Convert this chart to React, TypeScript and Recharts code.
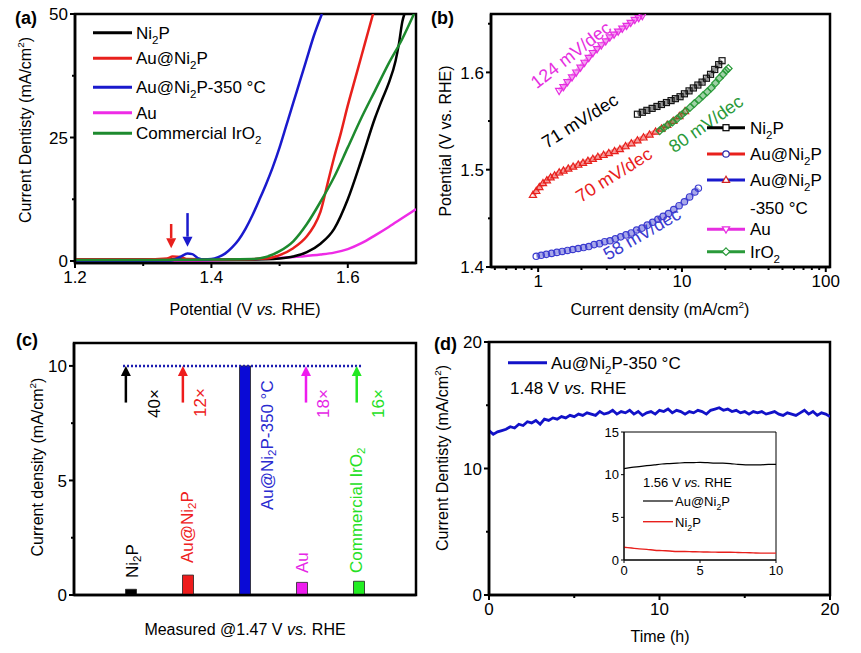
import React from 'react';
import {
  LineChart,
  Line,
  XAxis,
  YAxis,
  ReferenceArea,
  ReferenceLine,
  ScatterChart,
  Scatter,
  ComposedChart,
  Bar,
  Cell,
} from 'recharts';

const FONT = '"Liberation Sans", Arial, Helvetica, sans-serif';

// ---- (a) LSV curves: potential (V) vs current density (mA/cm2)
const ni2pV = [1.2, 1.3, 1.4, 1.45, 1.48, 1.5, 1.52, 1.54, 1.56, 1.58, 1.6, 1.62, 1.64, 1.65, 1.66, 1.67, 1.675, 1.68, 1.683];
const ni2pJ = [0.3, 0.3, 0.3, 0.3, 0.35, 0.5, 0.9, 1.8, 3.5, 6.5, 12.5, 20.5, 29, 32.6, 36, 40.5, 44, 48.5, 50];
const auNi2pV = [1.2, 1.3, 1.335, 1.343, 1.355, 1.365, 1.4, 1.45, 1.48, 1.5, 1.52, 1.54, 1.55, 1.56, 1.57, 1.58, 1.59, 1.6, 1.61, 1.62, 1.63, 1.637];
const auNi2pJ = [0.3, 0.3, 0.5, 0.9, 0.8, 0.4, 0.3, 0.35, 0.5, 1.2, 2.6, 5.0, 7.0, 10.0, 15.5, 21, 26, 31.5, 36.5, 41.5, 46.5, 50];
const au350V = [1.2, 1.3, 1.34, 1.355, 1.365, 1.372, 1.38, 1.39, 1.4, 1.41, 1.42, 1.43, 1.44, 1.45, 1.46, 1.47, 1.48, 1.49, 1.5, 1.51, 1.52, 1.53, 1.54, 1.55, 1.562];
const au350J = [0.0, 0.05, 0.1, 0.9, 1.5, 1.4, 0.6, 0.3, 0.4, 0.8, 1.5, 2.7, 4.3, 6.5, 9.2, 12.3, 15.5, 19, 23, 27.5, 32, 36.5, 41, 45.5, 50];
const auV = [1.2, 1.3, 1.4, 1.45, 1.5, 1.53, 1.56, 1.58, 1.6, 1.62, 1.64, 1.66, 1.68, 1.7];
const auJ = [-0.3, -0.2, 0.1, 0.3, 0.6, 0.9, 1.3, 1.7, 2.4, 3.6, 5.2, 6.9, 8.7, 10.5];
const iro2V = [1.2, 1.3, 1.4, 1.46, 1.48, 1.5, 1.52, 1.54, 1.56, 1.58, 1.6, 1.62, 1.64, 1.66, 1.68, 1.697];
const iro2J = [0.2, 0.2, 0.3, 0.4, 0.8, 2.0, 4.0, 7.5, 12, 17, 23, 29, 34.5, 40, 45, 50];

// arrows in (a): potential, arrow tail and tip (mA/cm2)
const aArrowV = [1.341, 1.365];
const aArrowTail = [7.5, 9.7];
const aArrowTip = [2.6, 2.9];

// ---- (b) Tafel: current density (mA/cm2) vs potential (V)
const tNi2pJ = [4.9, 5.3, 5.7, 6.2, 6.7, 7.2, 7.8, 8.4, 9.0, 9.7, 10.4, 11.2, 12.0, 12.9, 13.8, 14.8, 15.8, 16.9, 18.0, 19.0];
const tNi2pV = [1.557, 1.559, 1.561, 1.563, 1.565, 1.567, 1.569, 1.571, 1.573, 1.575, 1.578, 1.581, 1.584, 1.587, 1.59, 1.594, 1.598, 1.603, 1.608, 1.612];
const tAuNi2pJ = [0.92, 0.97, 1.02, 1.08, 1.15, 1.22, 1.3, 1.4, 1.5, 1.62, 1.75, 1.9, 2.05, 2.22, 2.4, 2.6, 2.85, 3.1, 3.4, 3.7, 4.05, 4.45, 4.9, 5.4, 5.95, 6.55, 7.2, 7.9, 8.7, 9.6, 10.5];
const tAuNi2pV = [1.474, 1.478, 1.482, 1.486, 1.489, 1.492, 1.494, 1.497, 1.499, 1.501, 1.503, 1.505, 1.507, 1.509, 1.511, 1.513, 1.515, 1.517, 1.519, 1.521, 1.524, 1.527, 1.53, 1.533, 1.536, 1.539, 1.542, 1.546, 1.55, 1.555, 1.56];
const tAu350J = [0.97, 1.05, 1.14, 1.24, 1.35, 1.47, 1.6, 1.74, 1.9, 2.07, 2.25, 2.45, 2.67, 2.9, 3.16, 3.44, 3.75, 4.08, 4.44, 4.84, 5.27, 5.74, 6.25, 6.8, 7.4, 8.06, 8.77, 9.55, 10.4, 11.3, 12.3, 13.0];
const tAu350V = [1.411, 1.412, 1.413, 1.414, 1.415, 1.416, 1.417, 1.418, 1.419, 1.42, 1.421, 1.423, 1.424, 1.426, 1.427, 1.429, 1.431, 1.433, 1.435, 1.438, 1.44, 1.443, 1.446, 1.449, 1.452, 1.455, 1.459, 1.463, 1.467, 1.472, 1.477, 1.481];
const tAuJ = [1.4, 1.5, 1.6, 1.72, 1.84, 1.97, 2.1, 2.25, 2.4, 2.57, 2.75, 2.95, 3.15, 3.37, 3.6, 3.85, 4.12, 4.4, 4.7, 5.0, 5.3];
const tAuV = [1.581, 1.585, 1.59, 1.595, 1.6, 1.605, 1.61, 1.615, 1.62, 1.624, 1.628, 1.632, 1.636, 1.639, 1.642, 1.645, 1.648, 1.651, 1.654, 1.656, 1.658];
const tIro2J = [7.0, 7.5, 8.0, 8.6, 9.2, 9.9, 10.6, 11.4, 12.2, 13.1, 14.0, 15.0, 16.0, 17.1, 18.2, 19.3, 20.3, 21.0];
const tIro2V = [1.54, 1.543, 1.546, 1.549, 1.552, 1.556, 1.56, 1.564, 1.568, 1.572, 1.576, 1.58, 1.584, 1.589, 1.594, 1.598, 1.602, 1.604];

// ---- (c) current density at 1.47 V
const cCats = ['Ni2P', 'Au@Ni2P', 'Au@Ni2P-350 °C', 'Au', 'Commercial IrO2'];
const cVals = [0.25, 0.87, 10, 0.55, 0.6];
const cColors = ['#000000', '#ee1c1c', '#0a0ad6', '#ee1cee', '#22ee22'];
const cArrowShift = [-0.09, -0.09, 0, 0.07, -0.04];
const cArrowTail = 8.4;
const cTarget = 10;

// ---- (d) chronoamperometry, sampled every 0.25 h
const dStep = 0.25;
const dJ = [
  13.0, 12.7, 12.9, 13.0, 13.1, 13.3, 13.2, 13.5, 13.4, 13.7, 13.6, 13.8,
  13.5, 13.9, 13.8, 14.0, 13.9, 14.1, 14.0, 14.2, 14.1, 14.3, 14.2, 14.4,
  14.3, 14.2, 14.5, 14.3, 14.4, 14.6, 14.3, 14.5, 14.4, 14.6, 14.3, 14.5,
  14.2, 14.4, 14.5, 14.3, 14.6, 14.5, 14.7, 14.4, 14.6, 14.5, 14.3, 14.5,
  14.4, 14.6, 14.5, 14.3, 14.6, 14.7, 14.8, 14.6, 14.7, 14.5, 14.6, 14.4,
  14.5, 14.3, 14.5, 14.4, 14.5, 14.3, 14.4, 14.5, 14.3, 14.2, 14.4, 14.3,
  14.2, 14.4, 14.6, 14.3, 14.5, 14.2, 14.4, 14.3, 14.1,
];
// inset, sampled every 0.5 h
const inStep = 0.5;
const inAuNi2p = [10.7, 10.85, 10.95, 11.05, 11.15, 11.25, 11.3, 11.35, 11.4, 11.4, 11.45, 11.4, 11.35, 11.35, 11.3, 11.2, 11.15, 11.15, 11.15, 11.2, 11.2];
const inNi2p = [1.5, 1.4, 1.3, 1.25, 1.15, 1.1, 1.05, 1.0, 1.0, 0.97, 0.95, 0.93, 0.92, 0.9, 0.9, 0.88, 0.86, 0.83, 0.8, 0.8, 0.8];

const zip = (xs: number[], ys: number[], kx: string, ky: string) =>
  xs.map((x, i) => ({ [kx]: x, [ky]: ys[i] }));

const mkTick =
  (side: 'bottom' | 'left', majors: number[], fmt: (v: number) => string, fs = 17, majLen = 5, minLen = 3, sw = 2) =>
  (props: any) => {
    const { x, y, payload } = props;
    const v = payload.value;
    const isMaj = majors.some((m) => Math.abs(m - v) < 1e-6);
    const len = isMaj ? majLen : minLen;
    if (side === 'bottom') {
      return (
        <g>
          <line x1={x} y1={y} x2={x} y2={y + len} stroke="#000" strokeWidth={sw} />
          {isMaj && (
            <text x={x} y={y + majLen + 3 + fs * 0.72} textAnchor="middle" fontSize={fs} fontFamily={FONT} fill="#000">
              {fmt(v)}
            </text>
          )}
        </g>
      );
    }
    return (
      <g>
        <line x1={x - len} y1={y} x2={x} y2={y} stroke="#000" strokeWidth={sw} />
        {isMaj && (
          <text x={x - majLen - 2} y={y + fs * 0.36} textAnchor="end" fontSize={fs} fontFamily={FONT} fill="#000">
            {fmt(v)}
          </text>
        )}
      </g>
    );
  };

const arrowShape = (color: string) => (p: any) => {
  const { x1, y1, x2, y2 } = p;
  const dir = Math.sign(y2 - y1) || 1;
  const hl = 10;
  const hw = 5;
  return (
    <g>
      <line x1={x1} y1={y1} x2={x2} y2={y2 - dir * hl} stroke={color} strokeWidth={2.5} />
      <polygon points={`${x2},${y2} ${x2 - hw},${y2 - dir * hl} ${x2 + hw},${y2 - dir * hl}`} fill={color} />
    </g>
  );
};

type Part = string | { sub: string } | { sup: string } | { i: string };
function rich(parts: Part[], fs: number) {
  let shift = 0;
  return parts.map((p, k) => {
    if (typeof p === 'string') {
      const d = -shift;
      shift = 0;
      return <tspan key={k} dy={d}>{p}</tspan>;
    }
    if ('sub' in p) {
      const s = fs * 0.3;
      const d = s - shift;
      shift = s;
      return <tspan key={k} dy={d} fontSize={fs * 0.68}>{p.sub}</tspan>;
    }
    if ('sup' in p) {
      const s = -fs * 0.42;
      const d = s - shift;
      shift = s;
      return <tspan key={k} dy={d} fontSize={fs * 0.62}>{p.sup}</tspan>;
    }
    const d = -shift;
    shift = 0;
    return <tspan key={k} dy={d} fontStyle="italic">{p.i}</tspan>;
  });
}

function T(props: {
  x: number; y: number; parts: Part[]; fs?: number; rot?: number; anchor?: string; color?: string; bold?: boolean; mid?: boolean;
}) {
  const { x, y, parts, fs = 17, rot = 0, anchor = 'start', color = '#000', bold = false, mid = false } = props;
  return (
    <text
      transform={`translate(${x},${y}) rotate(${rot})`}
      textAnchor={anchor as any}
      fontSize={fs}
      fill={color}
      fontWeight={bold ? 'bold' : 'normal'}
      dominantBaseline={mid ? 'central' : undefined}
      fontFamily={FONT}
    >
      {rich(parts, fs)}
    </text>
  );
}

const axisLine = { stroke: '#000', strokeWidth: 2.5 };
const W = 861;
const H = 653;
const layer: React.CSSProperties = { position: 'absolute', left: 0, top: 0 };

const aColors = { ni2p: '#000000', au: '#ee2be6', auNi2p: '#e8201c', au350: '#1a1acd', iro2: '#1d8a2e' };

function PanelA() {
  const series = [
    { key: 'au', data: zip(auV, auJ, 'v', 'j'), color: aColors.au },
    { key: 'ni2p', data: zip(ni2pV, ni2pJ, 'v', 'j'), color: aColors.ni2p },
    { key: 'auNi2p', data: zip(auNi2pV, auNi2pJ, 'v', 'j'), color: aColors.auNi2p },
    { key: 'au350', data: zip(au350V, au350J, 'v', 'j'), color: aColors.au350 },
    { key: 'iro2', data: zip(iro2V, iro2J, 'v', 'j'), color: aColors.iro2 },
  ];
  const arrowColors = [aColors.auNi2p, aColors.au350];
  return (
    <LineChart width={W} height={H} margin={{ top: 14, right: 445, bottom: 360, left: 35 }}>
      <XAxis
        type="number" dataKey="v" domain={[1.2, 1.7]} allowDataOverflow height={30}
        ticks={[1.2, 1.3, 1.4, 1.5, 1.6]} interval={0} tickSize={0} tickMargin={0} tickLine={false} axisLine={axisLine}
        tick={mkTick('bottom', [1.2, 1.4, 1.6], (v) => v.toFixed(1))}
      />
      <YAxis
        type="number" dataKey="j" domain={[-0.4, 50]} allowDataOverflow width={40}
        ticks={[0, 12.5, 25, 37.5, 50]} interval={0} tickSize={0} tickMargin={0} tickLine={false} axisLine={axisLine}
        tick={mkTick('left', [0, 25, 50], (v) => String(v))}
      />
      <ReferenceArea x1={1.2} x2={1.7} y1={-0.4} y2={50} fill="none" stroke="#000" strokeWidth={2.5} ifOverflow="visible" />
      {series.map((s) => (
        <Line
          key={s.key} data={s.data} dataKey="j" type="monotone" stroke={s.color} strokeWidth={2.5}
          dot={false} isAnimationActive={false}
        />
      ))}
      {aArrowV.map((v, i) => (
        <ReferenceLine
          key={i} segment={[{ x: v, y: aArrowTail[i] }, { x: v, y: aArrowTip[i] }]}
          shape={arrowShape(arrowColors[i])} ifOverflow="visible"
        />
      ))}
    </LineChart>
  );
}

const bColors = { ni2p: '#151515', auNi2p: '#e8201c', au350: '#3b3bcf', au: '#e62ee0', iro2: '#2a9a3a' };

const sq = (c: string, f = 'none') => (p: any) => <rect x={p.cx - 3} y={p.cy - 3} width={6} height={6} fill={f} stroke={c} strokeWidth={1.2} />;
const circ = (c: string, f = 'none') => (p: any) => <circle cx={p.cx} cy={p.cy} r={3.2} fill={f} stroke={c} strokeWidth={1.2} />;
const triUp = (c: string, f = 'none') => (p: any) => (
  <polygon points={`${p.cx},${p.cy - 3.8} ${p.cx - 3.6},${p.cy + 2.4} ${p.cx + 3.6},${p.cy + 2.4}`} fill={f} stroke={c} strokeWidth={1.2} />
);
const triDown = (c: string, f = 'none') => (p: any) => (
  <polygon points={`${p.cx},${p.cy + 3.8} ${p.cx - 3.6},${p.cy - 2.4} ${p.cx + 3.6},${p.cy - 2.4}`} fill={f} stroke={c} strokeWidth={1.2} />
);
const diam = (c: string, f = 'none') => (p: any) => (
  <polygon points={`${p.cx},${p.cy - 3.8} ${p.cx + 3.8},${p.cy} ${p.cx},${p.cy + 3.8} ${p.cx - 3.8},${p.cy}`} fill={f} stroke={c} strokeWidth={1.2} />
);

function PanelB() {
  const xTicks = [0.5, 0.6, 0.7, 0.8, 0.9, 1, 2, 3, 4, 5, 6, 7, 8, 9, 10, 20, 30, 40, 50, 60, 70, 80, 90, 100];
  const band = (c: string) => ({ stroke: c, strokeWidth: 5, strokeOpacity: 0.45 });
  return (
    <ScatterChart width={W} height={H} margin={{ top: 14, right: 31, bottom: 356, left: 451 }}>
      <XAxis
        type="number" dataKey="j" scale="log" domain={[0.47, 107]} allowDataOverflow height={30}
        ticks={xTicks} interval={0} tickSize={0} tickMargin={0} tickLine={false} axisLine={axisLine}
        tick={mkTick('bottom', [1, 10, 100], (v) => String(v))}
      />
      <YAxis
        type="number" dataKey="v" domain={[1.4, 1.66]} allowDataOverflow width={40}
        ticks={[1.4, 1.45, 1.5, 1.55, 1.6, 1.65]} interval={0} tickSize={0} tickMargin={0} tickLine={false} axisLine={axisLine}
        tick={mkTick('left', [1.4, 1.5, 1.6], (v) => v.toFixed(1))}
      />
      <ReferenceArea x1={0.47} x2={107} y1={1.4} y2={1.66} fill="none" stroke="#000" strokeWidth={2.5} ifOverflow="visible" />
      <Scatter data={zip(tAu350J, tAu350V, 'j', 'v')} line={band(bColors.au350)} shape={circ(bColors.au350)} isAnimationActive={false} />
      <Scatter data={zip(tAuNi2pJ, tAuNi2pV, 'j', 'v')} line={band(bColors.auNi2p)} shape={triUp(bColors.auNi2p)} isAnimationActive={false} />
      <Scatter data={zip(tIro2J, tIro2V, 'j', 'v')} line={band(bColors.iro2)} shape={diam(bColors.iro2)} isAnimationActive={false} />
      <Scatter data={zip(tNi2pJ, tNi2pV, 'j', 'v')} line={band(bColors.ni2p)} shape={sq(bColors.ni2p)} isAnimationActive={false} />
      <Scatter data={zip(tAuJ, tAuV, 'j', 'v')} line={band(bColors.au)} shape={triDown(bColors.au)} isAnimationActive={false} />
    </ScatterChart>
  );
}

function PanelC() {
  const data = cVals.map((val, i) => ({ pos: i + 1, val, name: cCats[i] }));
  return (
    <ComposedChart width={W} height={H} data={data} margin={{ top: 343, right: 445, bottom: 28, left: 34 }}>
      <XAxis type="number" dataKey="pos" domain={[0, 6]} allowDataOverflow height={30} tick={false} tickLine={false} axisLine={axisLine} />
      <YAxis
        type="number" domain={[0, 11]} allowDataOverflow width={40}
        ticks={[0, 2.5, 5, 7.5, 10]} interval={0} tickSize={0} tickMargin={0} tickLine={false} axisLine={axisLine}
        tick={mkTick('left', [0, 5, 10], (v) => String(v))}
      />
      <ReferenceArea x1={0} x2={6} y1={0} y2={11} fill="none" stroke="#000" strokeWidth={2.5} ifOverflow="visible" />
      <Bar dataKey="val" barSize={11} isAnimationActive={false} stroke="#222" strokeWidth={0.8}>
        {data.map((d, i) => (
          <Cell key={d.name} fill={cColors[i]} />
        ))}
      </Bar>
      <ReferenceLine
        segment={[{ x: 0.86, y: cTarget }, { x: 5.07, y: cTarget }]}
        stroke="#1b1bb0" strokeWidth={2.5} strokeDasharray="2 2" ifOverflow="visible"
      />
      {data.map((d, i) =>
        d.val < cTarget ? (
          <ReferenceLine
            key={d.name}
            segment={[{ x: d.pos + cArrowShift[i], y: cArrowTail }, { x: d.pos + cArrowShift[i], y: cTarget }]}
            shape={arrowShape(cColors[i] === '#22ee22' ? '#22e822' : cColors[i])}
            ifOverflow="visible"
          />
        ) : null
      )}
    </ComposedChart>
  );
}

function PanelD() {
  const data = dJ.map((j, i) => ({ t: i * dStep, j }));
  return (
    <LineChart width={W} height={H} data={data} margin={{ top: 342, right: 31, bottom: 28, left: 449 }}>
      <XAxis
        type="number" dataKey="t" domain={[0, 20]} allowDataOverflow height={30}
        ticks={[0, 5, 10, 15, 20]} interval={0} tickSize={0} tickMargin={0} tickLine={false} axisLine={axisLine}
        tick={mkTick('bottom', [0, 10, 20], (v) => String(v))}
      />
      <YAxis
        type="number" domain={[0, 20]} allowDataOverflow width={40}
        ticks={[0, 5, 10, 15, 20]} interval={0} tickSize={0} tickMargin={0} tickLine={false} axisLine={axisLine}
        tick={mkTick('left', [0, 10, 20], (v) => String(v))}
      />
      <ReferenceArea x1={0} x2={20} y1={0} y2={20} fill="none" stroke="#000" strokeWidth={2.5} ifOverflow="visible" />
      <Line dataKey="j" type="linear" stroke="#1212c8" strokeWidth={2.8} dot={false} isAnimationActive={false} />
    </LineChart>
  );
}

function Inset() {
  const data = inAuNi2p.map((a, i) => ({ t: i * inStep, a, n: inNi2p[i] }));
  const thin = { stroke: '#000', strokeWidth: 1 };
  return (
    <LineChart width={W} height={H} data={data} margin={{ top: 432, right: 85, bottom: 63, left: 584 }}>
      <XAxis
        type="number" dataKey="t" domain={[0, 10]} allowDataOverflow height={30}
        ticks={[0, 5, 10]} interval={0} tickSize={0} tickMargin={0} tickLine={false} axisLine={thin}
        tick={mkTick('bottom', [0, 5, 10], (v) => String(v), 13, 3, 2, 1)}
      />
      <YAxis
        type="number" domain={[0, 15]} allowDataOverflow width={40}
        ticks={[0, 5, 10, 15]} interval={0} tickSize={0} tickMargin={0} tickLine={false} axisLine={thin}
        tick={mkTick('left', [0, 5, 10, 15], (v) => String(v), 13, 3, 2, 1)}
      />
      <ReferenceArea x1={0} x2={10} y1={0} y2={15} fill="none" stroke="#000" strokeWidth={1} ifOverflow="visible" />
      <Line dataKey="a" type="monotone" stroke="#000" strokeWidth={1.2} dot={false} isAnimationActive={false} />
      <Line dataKey="n" type="monotone" stroke="#e8201c" strokeWidth={1.4} dot={false} isAnimationActive={false} />
    </LineChart>
  );
}

function Overlay() {
  const aLegend: { parts: Part[]; color: string; y: number }[] = [
    { parts: ['Ni', { sub: '2' }, 'P'], color: aColors.ni2p, y: 32.7 },
    { parts: ['Au@Ni', { sub: '2' }, 'P'], color: aColors.auNi2p, y: 58.3 },
    { parts: ['Au@Ni', { sub: '2' }, 'P-350 °C'], color: aColors.au350, y: 87.3 },
    { parts: ['Au'], color: aColors.au, y: 112.7 },
    { parts: ['Commercial IrO', { sub: '2' }], color: aColors.iro2, y: 133.3 },
  ];
  const bLegend: { parts: Part[]; color: string; y: number; mk: (c: string, f?: string) => (p: any) => any; mkc: string }[] = [
    { parts: ['Ni', { sub: '2' }, 'P'], color: '#000', y: 127.7, mk: sq, mkc: '#000' },
    { parts: ['Au@Ni', { sub: '2' }, 'P'], color: bColors.auNi2p, y: 154, mk: circ, mkc: '#2b2bb0' },
    { parts: ['Au@Ni', { sub: '2' }, 'P'], color: '#1a1acd', y: 180, mk: triUp, mkc: '#d02020' },
    { parts: ['Au'], color: bColors.au, y: 229.3, mk: triDown, mkc: bColors.au },
    { parts: ['IrO', { sub: '2' }], color: bColors.iro2, y: 251.7, mk: diam, mkc: bColors.iro2 },
  ];
  return (
    <svg width={W} height={H} style={{ ...layer, pointerEvents: 'none' }}>
      {/* panel letters */}
      <T x={15} y={24} parts={['(a)']} fs={18} bold />
      <T x={431} y={24} parts={['(b)']} fs={18} bold />
      <T x={16} y={346} parts={['(c)']} fs={18} bold />
      <T x={434} y={350} parts={['(d)']} fs={18} bold />

      {/* (a) */}
      {aLegend.map((r, i) => (
        <g key={i}>
          <line x1={93} x2={132} y1={r.y} y2={r.y} stroke={r.color} strokeWidth={3} />
          <T x={136} y={r.y + 6} parts={r.parts} />
        </g>
      ))}
      <T x={31} y={130} rot={-90} anchor="middle" fs={16} parts={['Current Dentisty (mA/cm', { sup: '2' }, ')']} />
      <T x={245} y={315} anchor="middle" fs={16} parts={['Potential (V ', { i: 'vs.' }, ' RHE)']} />

      {/* (b) */}
      <T x={571} y={55} rot={-38} anchor="middle" mid fs={18} color={bColors.au} parts={['124 mV/dec']} />
      <T x={580} y={121} rot={-32} anchor="middle" mid fs={18} parts={['71 mV/dec']} />
      <T x={614} y={175} rot={-32} anchor="middle" mid fs={18} color={bColors.auNi2p} parts={['70 mV/dec']} />
      <T x={706} y={124} rot={-35} anchor="middle" mid fs={18} color={bColors.iro2} parts={['80 mV/dec']} />
      <T x={642} y={234} rot={-30} anchor="middle" mid fs={18} color={bColors.au350} parts={['58 mV/dec']} />
      {bLegend.map((r, i) => (
        <g key={i}>
          <line x1={707} x2={745} y1={r.y} y2={r.y} stroke={r.color} strokeWidth={3} />
          {r.mk(r.mkc, '#fff')({ cx: 726, cy: r.y })}
          <T x={750} y={r.y + 6} parts={r.parts} />
        </g>
      ))}
      <T x={750} y={214} parts={['-350 °C']} />
      <T x={451} y={141} rot={-90} anchor="middle" fs={16} parts={['Potential (V vs. RHE)']} />
      <T x={660} y={315} anchor="middle" fs={16} parts={['Current density (mA/cm', { sup: '2' }, ')']} />

      {/* (c) */}
      <T x={43} y={467} rot={-90} anchor="middle" fs={16} parts={['Current density (mA/cm', { sup: '2' }, ')']} />
      <T x={245} y={635} anchor="middle" fs={16} parts={['Measured @1.47 V ', { i: 'vs.' }, ' RHE']} />
      <T x={131.7} y={578} rot={-90} mid parts={['Ni', { sub: '2' }, 'P']} />
      <T x={186.7} y={563} rot={-90} mid color="#ee2020" parts={['Au@Ni', { sub: '2' }, 'P']} />
      <T x={266.7} y={510} rot={-90} mid color="#2a2ad0" parts={['Au@Ni', { sub: '2' }, 'P-350 °C']} />
      <T x={301.7} y={573} rot={-90} mid color="#e626e6" parts={['Au']} />
      <T x={356} y={573} rot={-90} mid color="#25e025" parts={['Commercial IrO', { sub: '2' }]} />
      <T x={153.7} y={418} rot={-90} mid parts={['40×']} />
      <T x={200} y={417} rot={-90} mid color="#ee2020" parts={['12×']} />
      <T x={323.3} y={418} rot={-90} mid color="#e626e6" parts={['18×']} />
      <T x={378.3} y={418} rot={-90} mid color="#25e025" parts={['16×']} />

      {/* (d) */}
      <line x1={508} x2={547} y1={362.7} y2={362.7} stroke="#1212c8" strokeWidth={3} />
      <T x={551} y={369} parts={['Au@Ni', { sub: '2' }, 'P-350 °C']} />
      <T x={510} y={394} parts={['1.48 V ', { i: 'vs.' }, ' RHE']} />
      <T x={448} y={458} rot={-90} anchor="middle" fs={16} parts={['Current Dentisty (mA/cm', { sup: '2' }, ')']} />
      <T x={660} y={642} anchor="middle" fs={16} parts={['Time (h)']} />
      <T x={643} y={487} fs={13} parts={['1.56 V ', { i: 'vs.' }, ' RHE']} />
      <line x1={643} x2={673} y1={501} y2={501} stroke="#000" strokeWidth={1.2} />
      <T x={675} y={506} fs={13} parts={['Au@Ni', { sub: '2' }, 'P']} />
      <line x1={643} x2={673} y1={521.7} y2={521.7} stroke="#e8201c" strokeWidth={1.4} />
      <T x={675} y={527} fs={13} parts={['Ni', { sub: '2' }, 'P']} />
    </svg>
  );
}

export default function App() {
  return (
    <div style={{ position: 'absolute', left: 0, top: 0, width: W, height: H, background: '#fff', fontFamily: FONT, overflow: 'hidden' }}>
      <div style={layer}><PanelA /></div>
      <div style={layer}><PanelB /></div>
      <div style={layer}><PanelC /></div>
      <div style={layer}><PanelD /></div>
      <div style={layer}><Inset /></div>
      <Overlay />
    </div>
  );
}
